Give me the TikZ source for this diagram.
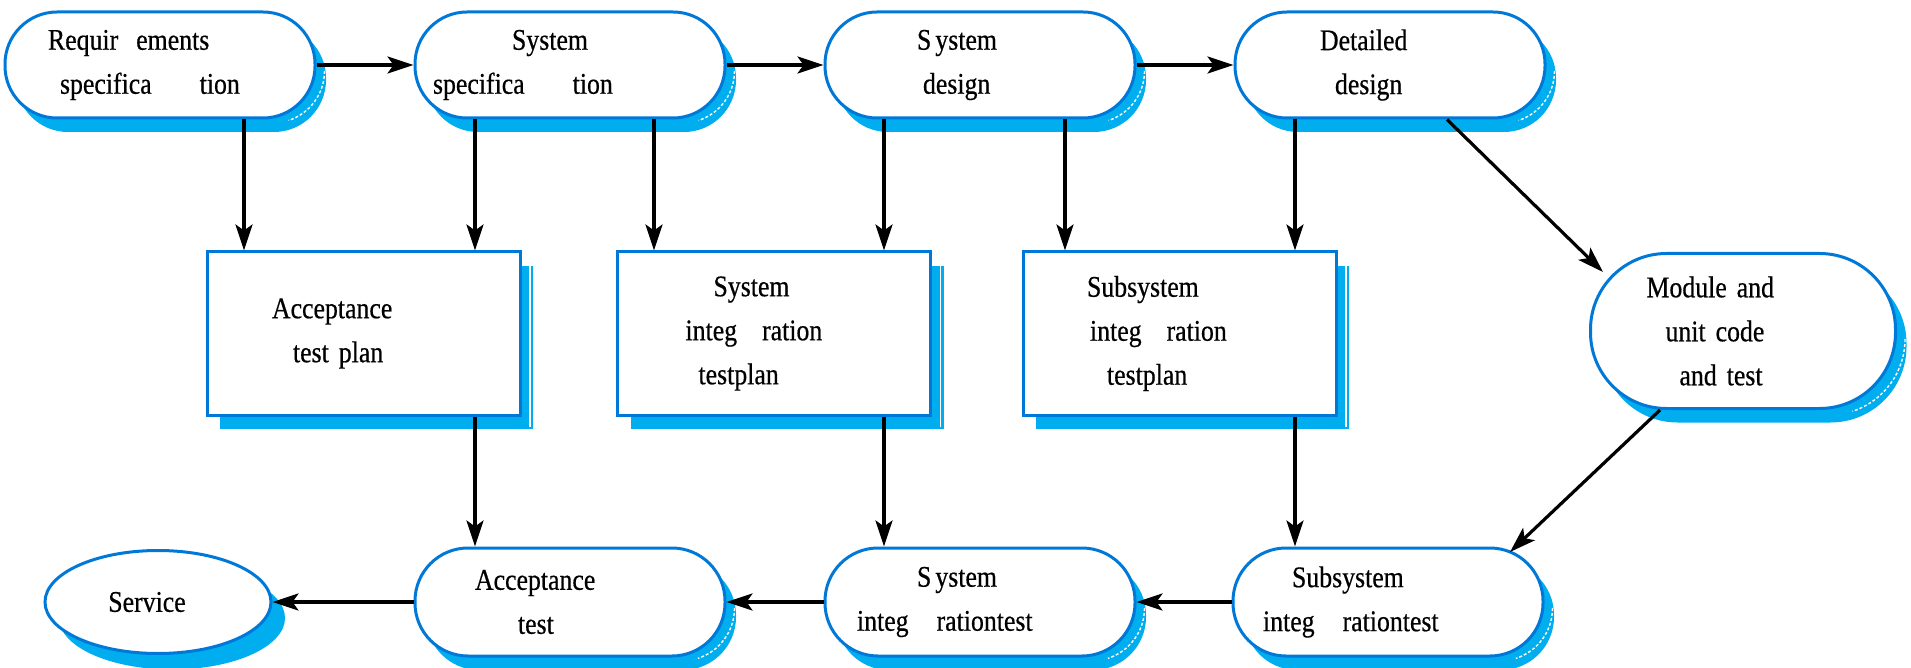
\documentclass[tikz,border=0pt]{standalone}
\usepackage{fontspec}
\setmainfont{Liberation Serif}[FakeStretch=0.86,FakeBold=0.5]
\usetikzlibrary{arrows.meta,shapes.geometric,shadows}
\definecolor{outl}{RGB}{0,120,215}
\definecolor{shadc}{RGB}{0,174,239}
\newcommand\lbl{\fontsize{15}{22}\selectfont}
\newcommand\ind[1]{\hspace*{#1}}
\begin{document}
\begin{tikzpicture}[x=0.5pt,y=-0.5pt,
  box/.style={draw=outl, line width=1.5pt, fill=white, inner xsep=0pt, inner ysep=0pt,
    align=left, font=\lbl},
  sh/.style={general shadow={fill=shadc, shadow xshift=5.5pt, shadow yshift=-7pt}},
  stad/.style n args={3}{box, sh, text width=#1, minimum height=#2, rounded corners=#3},
  rbox/.style 2 args={box, general shadow={fill=shadc, shadow xshift=6.5pt, shadow yshift=-7pt}, text width=#1, minimum height=#2},
  arr/.style={line width=1.6pt, -{Stealth[length=13pt,width=8.5pt,inset=3pt]}},
  wl/.style={white, line width=0.8pt},
  wd/.style={white, line width=0.7pt, dash pattern=on 1.5pt off 1pt}
]
\useasboundingbox[fill=white] (0,0) rectangle (1911,668);

% top row
\node[stad={155pt}{53pt}{26pt}] (req) at (160,65)
  {\ind{21.5pt}Requir\hspace{9pt}ements\\\ind{27.5pt}specifica\hspace{24pt}tion};
\node[stad={155pt}{53pt}{26pt}] (sysspec) at (570,65)
  {\ind{48.5pt}System\\\ind{9pt}specifica\hspace{24pt}tion};
\node[stad={155pt}{53pt}{26pt}] (sysdes) at (980,65)
  {\ind{46pt}S\hspace{2pt}ystem\\\ind{49pt}design};
\node[stad={155pt}{53pt}{26pt}] (detdes) at (1390,65)
  {\ind{42.5pt}Detailed\\\ind{50pt}design};

% middle row
\node[rbox={156.5pt}{81.5pt}] (atp) at (363.5,333.5)
  {\ind{32.5pt}Acceptance\\\ind{43pt}test plan};
\node[rbox={156.5pt}{81.5pt}] (sitp) at (774,333.5)
  {\ind{48pt}System\\\ind{34pt}integ\hspace{12.5pt}ration\\\ind{40.5pt}testplan};
\node[rbox={156.5pt}{81.5pt}] (ssitp) at (1179.5,333.5)
  {\ind{32pt}Subsystem\\\ind{33.5pt}integ\hspace{12.5pt}ration\\\ind{42pt}testplan};
\node[stad={152.5pt}{77.5pt}{38pt}] (module) at (1743,331)
  {\ind{28pt}Module and\\\ind{37.5pt}unit code\\\ind{44.5pt}and test};

% bottom row
\node[draw=outl, line width=1.5pt, fill=white, ellipse, inner sep=0pt, font=\lbl,
  minimum width=113pt, minimum height=51.5pt,
  general shadow={fill=shadc, shadow xshift=7pt, shadow yshift=-8pt}] (service) at (158,602)
  {Service\hspace*{11pt}};
\node[stad={155pt}{54pt}{26.5pt}] (at) at (570,602)
  {\ind{30pt}Acceptance\\\ind{51.5pt}test};
\node[stad={155pt}{54pt}{26.5pt}] (sit) at (980,602)
  {\ind{46pt}S\hspace{2pt}ystem\\\ind{16pt}integ\hspace{14pt}rationtest};
\node[stad={155pt}{54pt}{26.5pt}] (ssit) at (1388,602)
  {\ind{29.5pt}Subsystem\\\ind{15pt}integ\hspace{14pt}rationtest};

% white lines in shadows
\foreach \n in {atp,sitp,ssitp}
  \draw[wl] ([xshift=4.25pt,yshift=-4pt]\n.north east) -- ([xshift=4.25pt,yshift=-5pt]\n.south east);
\foreach \n in {req,sysspec,sysdes,detdes}
  \draw[wd] ([xshift=4pt,yshift=-3pt]\n.east) arc[start angle=0, end angle=-72, radius=26pt];
\foreach \n in {at,sit,ssit}
  \draw[wd] ([xshift=4pt,yshift=-3pt]\n.east) arc[start angle=0, end angle=-72, radius=26.5pt];
\draw[wd] ([xshift=4pt,yshift=-4pt]module.east) arc[start angle=0, end angle=-72, radius=38pt];

% top horizontal arrows
\draw[arr] (req.east) -- (sysspec.west);
\draw[arr] (sysspec.east) -- (sysdes.west);
\draw[arr] (sysdes.east) -- (detdes.west);

% top to middle
\draw[arr] ([xshift=42pt]req.south) -- ([xshift=-59.75pt]atp.north);
\draw[arr] ([xshift=-47.5pt]sysspec.south) -- ([xshift=55.75pt]atp.north);
\draw[arr] ([xshift=42pt]sysspec.south) -- ([xshift=-60pt]sitp.north);
\draw[arr] ([xshift=-48pt]sysdes.south) -- ([xshift=55pt]sitp.north);
\draw[arr] ([xshift=42.5pt]sysdes.south) -- ([xshift=-57.25pt]ssitp.north);
\draw[arr] ([xshift=-47.5pt]detdes.south) -- ([xshift=57.75pt]ssitp.north);
\draw[arr] ([xshift=28.5pt]detdes.south) -- ([xshift=-70pt,yshift=29.5pt]module.center);

% middle to bottom
\draw[arr] ([xshift=55.75pt]atp.south) -- ([xshift=-47.5pt]at.north);
\draw[arr] ([xshift=55pt]sitp.south) -- ([xshift=-48pt]sit.north);
\draw[arr] ([xshift=57.75pt]ssitp.south) -- ([xshift=-46.5pt]ssit.north);
\draw[arr] ([xshift=-41.5pt]module.south) -- ([xshift=61pt,yshift=25pt]ssit.center);

% bottom horizontal arrows
\draw[arr] (ssit.west) -- (sit.east);
\draw[arr] (sit.west) -- (at.east);
\draw[arr] (at.west) -- (service.east);
\end{tikzpicture}
\end{document}
